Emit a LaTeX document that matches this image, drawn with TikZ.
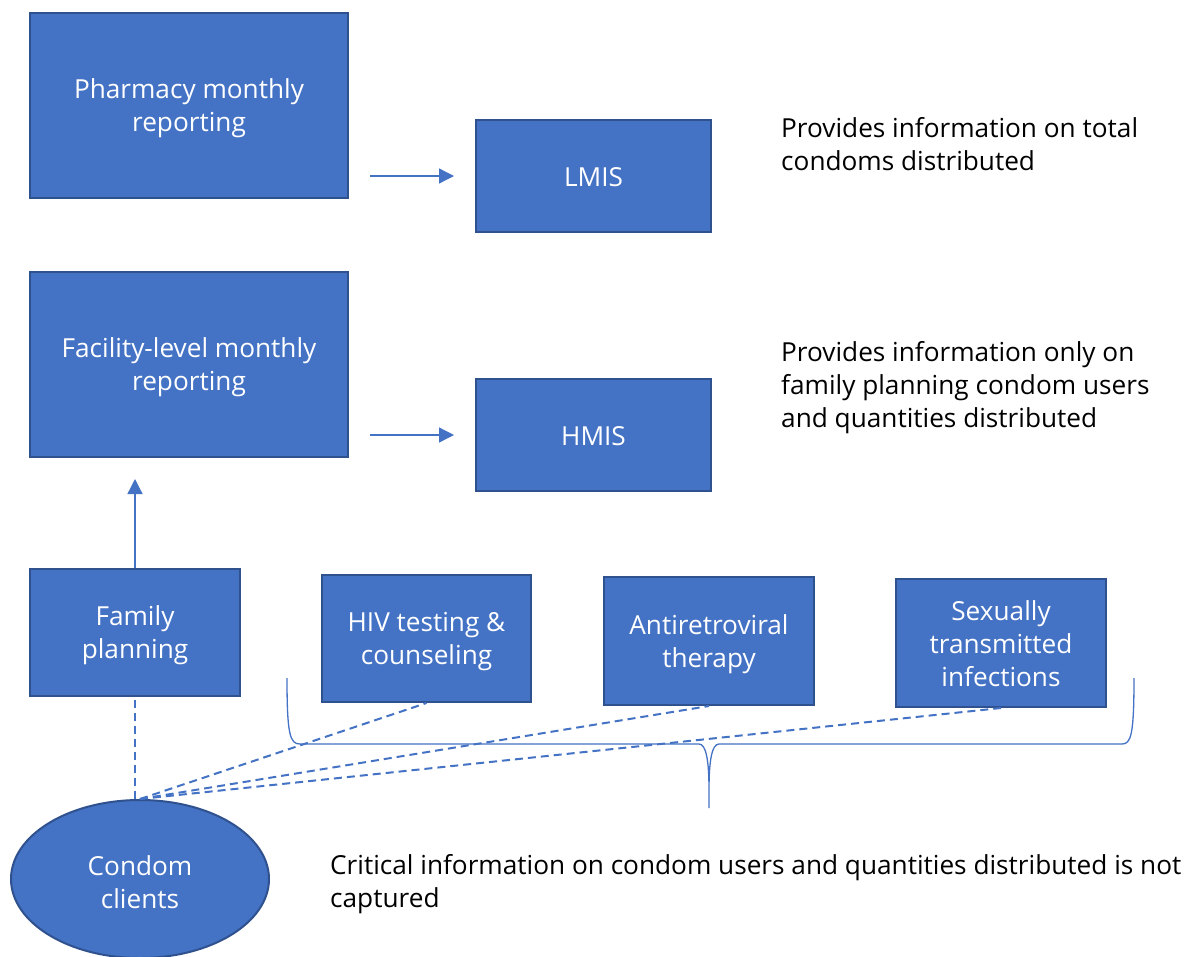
\documentclass[tikz,border=0pt]{standalone}
\usepackage{fontspec}
\setmainfont{Open Sans}
\usetikzlibrary{arrows.meta,shapes.geometric,calc}
\definecolor{boxblue}{HTML}{4472C4}
\definecolor{boxedge}{HTML}{2F528F}
\begin{document}
\begin{tikzpicture}[x=1pt,y=-1pt,
  box/.style={rectangle,draw=boxedge,line width=2pt,fill=boxblue,inner sep=0pt},
  oval/.style={ellipse,draw=boxedge,line width=2pt,fill=boxblue,inner sep=0pt},
  boxtext/.style={text=white,align=center,font=\fontsize{26.2}{33}\selectfont,inner sep=0pt},
  arr/.style={draw=boxblue,line width=1.3pt,-{Triangle[width=15pt,length=15pt]}},
  dash line/.style={draw=boxblue,line width=2pt,dash pattern=on 8pt off 5pt},
  brace line/.style={draw=boxblue,line width=1.3pt},
  note/.style={align=left,anchor=west,font=\fontsize{26.2}{33}\selectfont,inner sep=0pt}]
\useasboundingbox (0,0) rectangle (1194,956);
\fill[white] (0,0) rectangle (1194,956);

\node[box,minimum width=318pt,minimum height=185pt] (pharm) at (189,105.5) {};
\node[box,minimum width=235pt,minimum height=112pt] (lmis) at (593.5,176) {};
\node[box,minimum width=318pt,minimum height=185pt] (fac) at (189,364.5) {};
\node[box,minimum width=235pt,minimum height=112pt] (hmis) at (593.5,435) {};
\node[box,minimum width=210pt,minimum height=127pt] (fp) at (135,632.5) {};
\node[box,minimum width=209pt,minimum height=127pt] (hiv) at (426.5,638.5) {};
\node[box,minimum width=210pt,minimum height=128pt] (art) at (709,641) {};
\node[box,minimum width=210pt,minimum height=128pt] (sti) at (1001,643) {};
\node[oval,minimum width=258pt,minimum height=158pt] (cc) at (140,879) {};

\node[boxtext] (pharm-t) at ([yshift=-3pt]pharm.center) {Pharmacy monthly\\reporting};
\node[boxtext] (lmis-t) at ([yshift=-1pt]lmis.center) {LMIS};
\node[boxtext] (fac-t) at ([yshift=-3pt]fac.center) {Facility-level monthly\\reporting};
\node[boxtext] (hmis-t) at ([yshift=-1pt]hmis.center) {HMIS};
\node[boxtext] (fp-t) at ([yshift=-3pt]fp.center) {Family\\planning};
\node[boxtext] (hiv-t) at ([yshift=-3pt]hiv.center) {HIV testing \&\\counseling};
\node[boxtext] (art-t) at ([yshift=-3pt]art.center) {Antiretroviral\\therapy};
\node[boxtext] (sti-t) at ([yshift=-1pt]sti.center) {Sexually\\transmitted\\infections};
\node[boxtext] (cc-t) at ([yshift=-3pt]cc.center) {Condom\\clients};

\node[note] (n1) at (781,144) {Provides information on total\\condoms distributed};
\node[note] (n2) at (781,388) {Provides information only on\\family planning condom users\\and quantities distributed};
\node[note] (n3) at (330,884.5) {Critical information on condom users and quantities distributed is not\\captured};

\draw[arr] ([xshift=21pt]pharm.east |- lmis.west) -- ([xshift=-21pt]lmis.west);
\draw[arr] ([xshift=21pt]fac.east |- hmis.west) -- ([xshift=-21pt]hmis.west);
\path (fp.north |- fac.south) ++(0,21) coordinate (upend);
\draw[arr] (fp.north) -- (upend);

\draw[dash line] (fp.south |- cc.north) -- (fp.south);
\draw[dash line] (cc.north) -- (hiv.south);
\draw[dash line] (cc.north) -- (art.south);
\draw[dash line] (cc.north) -- (sti.south);

\draw[brace line] (287,678) .. controls (287,735) and (290,744) .. (300,744) -- (699,744)
  .. controls (706,744) and (709,760) .. (709,790) -- (709,808)
  (709,790) .. controls (709,760) and (712,744) .. (719,744) -- (1122,744)
  .. controls (1131,744) and (1134,735) .. (1134,678);
\end{tikzpicture}
\end{document}
